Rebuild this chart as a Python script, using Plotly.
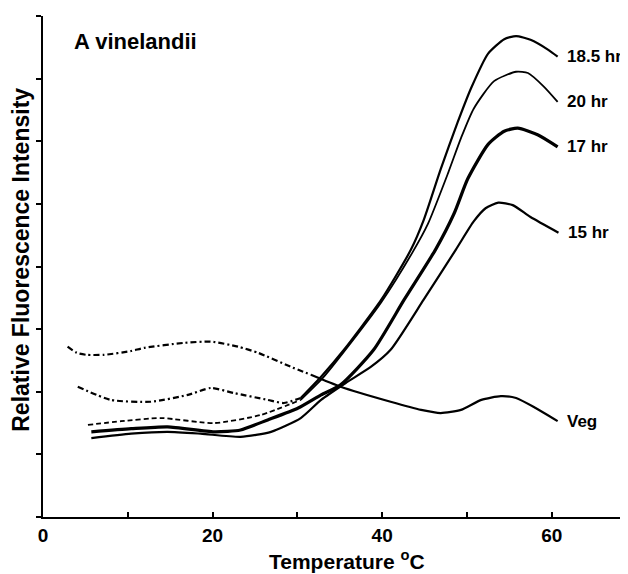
import plotly.graph_objects as go

# temperature (deg C) and relative fluorescence
veg_t = [2.9, 4.0, 5.1, 7.2, 10.4, 11.9, 16.6, 19.8, 23.0, 25.4, 29.2, 31.6,
         35.1, 41.0, 44.6, 46.9, 49.3, 51.7, 54.0, 55.8, 58.1, 60.7]
veg_f = [2.72, 2.62, 2.59, 2.59, 2.65, 2.70, 2.78, 2.80, 2.72, 2.62, 2.40, 2.27,
         2.08, 1.84, 1.71, 1.66, 1.71, 1.87, 1.93, 1.90, 1.74, 1.53]

h185_t = [4.1, 8.0, 12.7, 17.1, 19.8, 22.5, 26.5, 28.4, 30.4, 32.8, 35.5, 39.9,
          43.4, 44.9, 46.9, 48.9, 50.5, 52.5, 54.4, 55.8, 57.5, 59.6, 60.7]
h185_f = [2.08, 1.87, 1.84, 1.95, 2.06, 1.98, 1.87, 1.82, 1.90, 2.24, 2.67, 3.47,
          4.27, 4.74, 5.55, 6.30, 6.85, 7.40, 7.63, 7.68, 7.62, 7.46, 7.35]

h20_t = [5.3, 9.2, 13.9, 20.2, 25.7, 30.4, 33.0, 35.5, 39.9, 43.6, 45.4, 47.8,
         49.3, 50.8, 53.2, 55.8, 57.2, 59.1, 60.7]
h20_f = [1.47, 1.53, 1.58, 1.50, 1.63, 1.87, 2.22, 2.64, 3.43, 4.23, 4.68, 5.50,
         6.05, 6.52, 6.96, 7.11, 7.09, 6.87, 6.63]

h17_t = [5.7, 10.4, 14.7, 20.2, 23.3, 26.5, 30.1, 32.8, 35.1, 39.0, 42.6, 46.3,
         48.5, 50.1, 52.5, 54.4, 56.0, 58.4, 60.7]
h17_f = [1.36, 1.41, 1.44, 1.36, 1.39, 1.55, 1.74, 1.95, 2.11, 2.67, 3.47, 4.27,
         4.85, 5.40, 5.95, 6.16, 6.21, 6.10, 5.91]

h15_t = [5.7, 10.4, 14.7, 18.6, 23.3, 26.9, 30.4, 32.8, 35.7, 38.7, 41.0, 44.9,
         48.7, 50.8, 52.2, 53.7, 55.4, 57.5, 60.8]
h15_f = [1.26, 1.33, 1.36, 1.33, 1.28, 1.36, 1.58, 1.87, 2.14, 2.40, 2.67, 3.47,
         4.27, 4.72, 4.93, 5.02, 4.98, 4.79, 4.54]

x_ticks = [0, 20, 40, 60]

FONT = "Liberation Sans, Arial, sans-serif"

fig = go.Figure()


def add_line(t, f, dash, width, split=None, dash2="solid"):
    # optional split: first part dashed, rest in another style
    if split is None:
        parts = [(t, f, dash)]
    else:
        parts = [(t[:split + 1], f[:split + 1], dash), (t[split:], f[split:], dash2)]
    for xs, ys, d in parts:
        fig.add_trace(go.Scatter(
            x=xs, y=ys, mode="lines",
            line=dict(color="black", width=width, dash=d, shape="spline", smoothing=0.6),
            showlegend=False, hoverinfo="skip"))


add_line(veg_t, veg_f, "6px,3px,2px,3px", 2.2, split=11)
add_line(h185_t, h185_f, "6px,3px,2px,3px", 2.2, split=8)
add_line(h20_t, h20_f, "5px,3px", 1.8, split=5)
add_line(h17_t, h17_f, "solid", 3.2)
add_line(h15_t, h15_f, "solid", 2.2)

labels = [("18.5 hr", h185_t, h185_f), ("20 hr", h20_t, h20_f),
          ("17 hr", h17_t, h17_f), ("15 hr", h15_t, h15_f), ("Veg", veg_t, veg_f)]
for name, t, f in labels:
    fig.add_annotation(x=t[-1] + 0.9, y=f[-1], text="<b>%s</b>" % name,
                       showarrow=False, xanchor="left", yanchor="middle",
                       font=dict(family=FONT, size=17, color="black"))

fig.add_annotation(x=3.4, y=7.59, text="<b>A vinelandii</b>", showarrow=False,
                   xanchor="left", yanchor="middle",
                   font=dict(family=FONT, size=22, color="black"))

fig.add_annotation(xref="paper", yref="paper", x=-0.038, y=0.513,
                   text="<b>Relative Fluorescence Intensity</b>", textangle=-90,
                   showarrow=False, xanchor="center", yanchor="middle",
                   font=dict(family=FONT, size=23, color="black"))
fig.add_annotation(xref="paper", yref="paper", x=0.52, y=-0.086,
                   text="<b>Temperature <sup>o</sup>C</b>",
                   showarrow=False, xanchor="center", yanchor="middle",
                   font=dict(family=FONT, size=21, color="black"))

# page body adds an 8px offset, so the figure is 8px smaller
fig.update_layout(
    width=620, height=566,
    margin=dict(l=35, r=0, t=8, b=57),
    plot_bgcolor="white", paper_bgcolor="white",
    font=dict(family=FONT, color="black"),
)
fig.update_xaxes(range=[0, 69], showgrid=False, zeroline=False,
                 showline=True, linecolor="black", linewidth=2,
                 tickmode="array", tickvals=x_ticks,
                 ticks="inside", ticklen=5, tickwidth=2, tickcolor="black",
                 minor=dict(dtick=10, ticks="inside", ticklen=5, tickwidth=2,
                            tickcolor="black", showgrid=False),
                 tickfont=dict(family=FONT, size=19, color="black", weight="bold"))
fig.update_yaxes(range=[0, 8], showgrid=False, zeroline=False,
                 showline=True, linecolor="black", linewidth=2,
                 tickmode="linear", tick0=0, dtick=1, showticklabels=False,
                 ticks="outside", ticklen=5, tickwidth=2, tickcolor="black")

fig.write_html("out.html")
